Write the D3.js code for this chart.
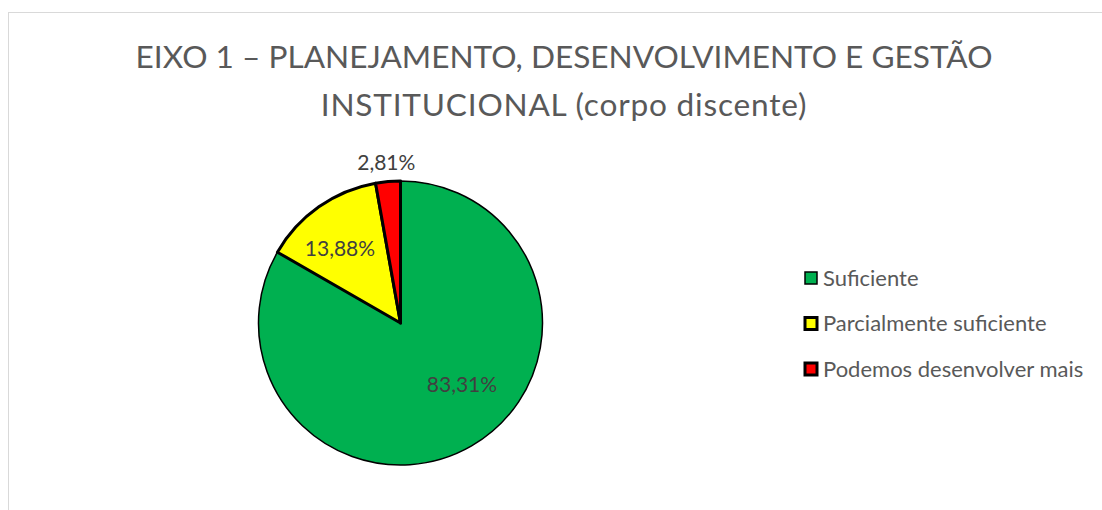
<!DOCTYPE html>
<html><head><meta charset="utf-8">
<script src="https://cdn.jsdelivr.net/npm/d3@7"></script>
<style>body{margin:0;background:#fff}svg{display:block}</style>
</head><body>
<svg id="c" width="1102" height="510"></svg>
<script>
const categories = ["Suficiente", "Parcialmente suficiente", "Podemos desenvolver mais"];
const values = [83.31, 13.88, 2.81];
const labels = ["83,31%", "13,88%", "2,81%"];
const colors = ["#00B050", "#FFFF00", "#FF0000"];
const titleLines = ["EIXO 1 – PLANEJAMENTO, DESENVOLVIMENTO E GESTÃO", "INSTITUCIONAL (corpo discente)"];

const svg = d3.select("#c");
const font = "Lato, 'Open Sans', sans-serif";
svg.append("rect").attr("x", 8.5).attr("y", 12.5).attr("width", 1200).attr("height", 600)
  .attr("fill", "#fff").attr("stroke", "#d9d9d9").attr("stroke-width", 1);

svg.selectAll("text.title").data(titleLines).join("text").attr("class", "title")
  .attr("x", 564).attr("y", (d, i) => 68 + i * 47.5)
  .attr("text-anchor", "middle").attr("font-family", font).attr("font-size", 31.6)
  .attr("letter-spacing", (d, i) => i === 1 ? 0.8 : 0)
  .attr("fill", "#595959").text(d => d);

const cx = 400.5, cy = 323, r = 142;
const pie = d3.pie().sort(null).value(d => d)(values);
const arc = d3.arc().innerRadius(0).outerRadius(r);
const g = svg.append("g").attr("transform", `translate(${cx},${cy})`);
g.selectAll("path").data(pie).join("path")
  .attr("d", arc).attr("fill", (d, i) => colors[i]).attr("stroke", "#000")
  .attr("stroke-width", (d, i) => i === 0 ? 1.5 : 3).attr("stroke-linejoin", "round");

// label placement: [angle shift (rad), distance from centre]
const labelPlace = [[-0.26, 87], [-0.07, 96], [0, 161]];
g.selectAll("text.lbl").data(pie).join("text").attr("class", "lbl")
  .attr("transform", (d, i) => {
    const a = (d.startAngle + d.endAngle) / 2 + labelPlace[i][0], dist = labelPlace[i][1];
    return `translate(${Math.sin(a) * dist},${-Math.cos(a) * dist})`;
  })
  .attr("dy", "0.35em").attr("text-anchor", "middle")
  .attr("font-family", font).attr("font-size", 21).attr("fill", "#404040")
  .text((d, i) => labels[i]);

const leg = svg.append("g").attr("transform", "translate(804,278)");
const rows = leg.selectAll("g").data(categories).join("g")
  .attr("transform", (d, i) => `translate(0,${i * 45.5})`);
rows.append("rect").attr("x", 1).attr("y", -6).attr("width", 12).attr("height", 12)
  .attr("fill", (d, i) => colors[i]).attr("stroke", "#000").attr("stroke-width", (d, i) => i === 0 ? 1.5 : 3);
rows.append("text").attr("x", 19).attr("dy", "0.35em")
  .attr("font-family", font).attr("font-size", 22).attr("fill", "#595959").text(d => d);
</script>
</body></html>
